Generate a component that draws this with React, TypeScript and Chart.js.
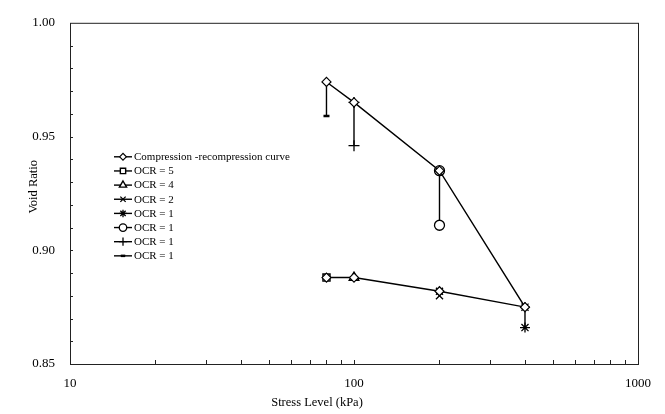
import React, { useEffect, useRef } from "react";
import { Chart, registerables } from "chart.js";
import { drawPoint } from "chart.js/helpers";

Chart.register(...registerables);

const seriesNames = [
  "Compression -recompression curve",
  "OCR = 5",
  "OCR = 4",
  "OCR = 2",
  "OCR = 1",
  "OCR = 1",
  "OCR = 1",
  "OCR = 1",
];

const compStress = [80, 100, 200, 400, 200, 100, 80];
const compVoid = [0.974, 0.965, 0.935, 0.875, 0.882, 0.888, 0.888];

const ocr5Stress = [80];
const ocr5Void = [0.888];
const ocr4Stress = [100];
const ocr4Void = [0.888];
const ocr2Stress = [200, 200];
const ocr2Void = [0.882, 0.88];
const ocr1aStress = [400, 400];
const ocr1aVoid = [0.875, 0.866];
const ocr1bStress = [200, 200];
const ocr1bVoid = [0.935, 0.911];
const ocr1cStress = [100, 100];
const ocr1cVoid = [0.965, 0.946];
const ocr1dStress = [80, 80];
const ocr1dVoid = [0.974, 0.959];

const xTickLabels = [10, 100, 1000];
const yTickLabels = [0.85, 0.9, 0.95, 1.0];

const FONT = "'Liberation Serif', 'Times New Roman', serif";

const toPts = (xs: number[], ys: number[]) => xs.map((x, i) => ({ x, y: ys[i] }));

const styles = [
  { pointStyle: "rectRot", radius: 4.5, fill: "#fff", bw: 1.2 },
  { pointStyle: "rect", radius: 5, fill: "#fff", bw: 1.4 },
  { pointStyle: "triangle", radius: 5.5, fill: "#fff", bw: 1.4 },
  { pointStyle: "crossRot", radius: 5, fill: "#fff", bw: 1.3 },
  { pointStyle: "star", radius: 5, fill: "#fff", bw: 1.3 },
  { pointStyle: "circle", radius: 5, fill: "#fff", bw: 1.3 },
  { pointStyle: "cross", radius: 5.5, fill: "#fff", bw: 1.3 },
  { pointStyle: "line", radius: 3, fill: "#000", bw: 2.5 },
];

const seriesData = [
  toPts(compStress, compVoid),
  toPts(ocr5Stress, ocr5Void),
  toPts(ocr4Stress, ocr4Void),
  toPts(ocr2Stress, ocr2Void),
  toPts(ocr1aStress, ocr1aVoid),
  toPts(ocr1bStress, ocr1bVoid),
  toPts(ocr1cStress, ocr1cVoid),
  toPts(ocr1dStress, ocr1dVoid),
];

const framePlugin = {
  id: "frame",
  afterDraw(chart: any) {
    const { ctx, chartArea: a, scales } = chart;
    const xs = scales.x;
    const ys = scales.y;
    ctx.save();
    ctx.strokeStyle = "#222";
    ctx.lineWidth = 1;
    ctx.strokeRect(a.left + 0.5, a.top + 0.5, a.right - a.left, a.bottom - a.top);
    ctx.beginPath();
    for (let v = 0.86; v < 0.995; v += 0.01) {
      const y = Math.round(ys.getPixelForValue(v)) + 0.5;
      ctx.moveTo(a.left, y);
      ctx.lineTo(a.left + 3, y);
    }
    for (const dec of [10, 100]) {
      for (let m = 2; m <= 10; m++) {
        const v = dec * m;
        if (v >= 1000) continue;
        const x = Math.round(xs.getPixelForValue(v)) + 0.5;
        ctx.moveTo(x, a.bottom);
        ctx.lineTo(x, a.bottom - 4);
      }
    }
    ctx.stroke();

    ctx.fillStyle = "#000";
    ctx.font = `12.5px ${FONT}`;
    ctx.textAlign = "center";
    ctx.textBaseline = "middle";
    ctx.fillText("Stress Level (kPa)", a.left + 247, 403);
    ctx.save();
    ctx.translate(34, a.top + 164);
    ctx.rotate(-Math.PI / 2);
    ctx.fillText("Void Ratio", 0, 0);
    ctx.restore();

    const lx = a.left + 44;
    const ly = a.top + 134;
    const step = 14.15;
    ctx.font = `11px ${FONT}`;
    ctx.textAlign = "left";
    chart.data.datasets.forEach((ds: any, i: number) => {
      const y = ly + i * step;
      ctx.strokeStyle = "#000";
      ctx.lineWidth = 1.4;
      ctx.beginPath();
      ctx.moveTo(lx, y);
      ctx.lineTo(lx + 18, y);
      ctx.stroke();
      ctx.fillStyle = ds.pointBackgroundColor;
      ctx.strokeStyle = "#000";
      ctx.lineWidth = ds.pointBorderWidth;
      drawPoint(ctx, { pointStyle: ds.pointStyle, radius: ds.pointRadius * 0.75, borderWidth: ds.pointBorderWidth, rotation: 0 } as any, lx + 9, y);
      ctx.fillStyle = "#000";
      ctx.fillText(ds.label, lx + 20, y + 0.5);
    });
    ctx.restore();
  },
};

export default function App() {
  const ref = useRef<HTMLCanvasElement | null>(null);
  useEffect(() => {
    if (!ref.current) return;
    const chart = new Chart(ref.current, {
      type: "scatter",
      data: {
        datasets: seriesData.map((d, i) => ({
          label: seriesNames[i],
          data: d,
          showLine: true,
          borderColor: "#000",
          borderWidth: 1.4,
          pointStyle: styles[i].pointStyle as any,
          pointRadius: styles[i].radius,
          pointBackgroundColor: styles[i].fill,
          pointBorderColor: "#000",
          pointBorderWidth: styles[i].bw,
          tension: 0,
        })),
      },
      options: {
        responsive: false,
        animation: false,
        layout: { padding: { top: 15, right: 27, left: 0, bottom: 0 } },
        plugins: { legend: { display: false }, tooltip: { enabled: false } },
        scales: {
          x: {
            type: "logarithmic",
            min: 10,
            max: 1000,
            position: "bottom",
            grid: { display: false, drawTicks: false },
            border: { display: false },
            afterFit: (s: any) => {
              s.height = 50;
            },
            afterBuildTicks: (s: any) => {
              s.ticks = xTickLabels.map((v) => ({ value: v }));
            },
            ticks: {
              autoSkip: false,
              maxRotation: 0,
              padding: 12,
              color: "#000",
              font: { family: FONT, size: 13 },
              callback: (v: any) => String(v),
            },
          },
          y: {
            min: 0.85,
            max: 1.0,
            grid: { display: false, drawTicks: false },
            border: { display: false },
            afterFit: (s: any) => {
              s.width = 70;
            },
            afterBuildTicks: (s: any) => {
              s.ticks = yTickLabels.map((v) => ({ value: v }));
            },
            ticks: {
              padding: 15,
              color: "#000",
              font: { family: FONT, size: 13 },
              callback: (v: any) => Number(v).toFixed(2),
            },
          },
        },
      },
      plugins: [framePlugin],
    });
    return () => chart.destroy();
  }, []);
  return (
    <div style={{ position: "absolute", left: 0, top: 0, width: 665, height: 414, background: "#fff" }}>
      <canvas ref={ref} width={665} height={414} style={{ display: "block" }} />
    </div>
  );
}
